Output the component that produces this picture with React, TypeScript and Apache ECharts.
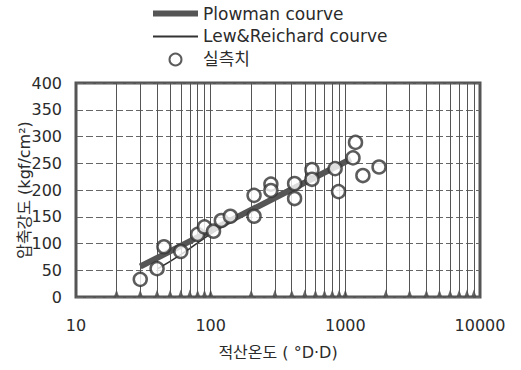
import React, { useEffect, useRef } from "react";
import * as echarts from "echarts";

const measuredX = [30, 40, 45, 60, 80, 90, 105, 120, 140, 210, 210, 280, 280, 420, 420, 565, 565, 840, 890, 1140, 1190, 1350, 1780];
const measuredY = [33, 53, 94, 85, 117, 131, 123, 143, 151, 190, 151, 211, 199, 212, 184, 238, 220, 240, 197, 260, 289, 227, 243];

const plowmanX = [30, 100, 1100];
const plowmanY = [57, 124, 258];

const lewX = [40, 60, 100, 200, 500, 1100];
const lewY = [52, 79, 118, 165, 218, 255];

const minorGrid = [20, 30, 40, 50, 60, 70, 80, 90, 200, 300, 400, 500, 600, 700, 800, 900, 2000, 3000, 4000, 5000, 6000, 7000, 8000, 9000];
const tickMarks = [20, 30, 40, 50, 60, 70, 80, 90, 100, 200, 300, 400, 500, 600, 700, 800, 900, 1000, 2000, 3000, 4000, 5000, 6000, 7000, 8000, 9000];

const FONT = "'DejaVu Sans', 'Noto Sans CJK KR', sans-serif";
const TXT = "#2b2b2b";

export default function App() {
  const ref = useRef<HTMLDivElement>(null);
  useEffect(() => {
    if (!ref.current) return;
    const chart = echarts.init(ref.current, undefined, { renderer: "svg" });
    chart.setOption({
      animation: false,
      textStyle: { fontFamily: FONT, color: TXT },
      legend: {
        orient: "vertical",
        left: 150,
        top: 5,
        padding: 0,
        itemWidth: 45,
        itemHeight: 12,
        itemGap: 6,
        textStyle: { fontFamily: FONT, fontSize: 17, color: TXT },
        data: [
          { name: "Plowman courve", itemStyle: { opacity: 0 }, lineStyle: { width: 6, color: "#555" } },
          { name: "Lew&Reichard courve", itemStyle: { opacity: 0 }, lineStyle: { width: 2, color: "#333" } },
          { name: "실측치" },
        ],
      },
      grid: {
        left: 76,
        right: 41,
        top: 83,
        bottom: 73,
        show: true,
        borderColor: "#555",
        borderWidth: 3,
        backgroundColor: "transparent",
      },
      xAxis: {
        type: "log",
        logBase: 10,
        min: 10,
        max: 10000,
        axisLine: { show: false },
        axisTick: { show: false },
        splitLine: { show: true, lineStyle: { color: "#555", width: 1 } },
        axisLabel: {
          margin: 20,
          fontSize: 16,
          color: TXT,
          fontFamily: FONT,
          formatter: (v: number) => String(Math.round(v)),
        },
        name: "적산온도 ( °D·D)",
        nameLocation: "middle",
        nameGap: 47,
        nameTextStyle: { fontSize: 16, color: TXT, fontFamily: FONT },
      },
      yAxis: {
        type: "value",
        min: 0,
        max: 400,
        interval: 50,
        axisLine: { show: false },
        axisTick: { show: false },
        splitLine: { show: true, lineStyle: { color: "#666", width: 1, type: [7, 3] } },
        axisLabel: { margin: 14, fontSize: 16, color: TXT, fontFamily: FONT },
        name: "압축강도 (kgf/cm²)",
        nameLocation: "middle",
        nameGap: 44,
        nameMoveOverlap: false,
        nameRotate: 90,
        nameTextStyle: { fontSize: 16, color: TXT, fontFamily: FONT },
      },
      series: [
        {
          name: "gridlines",
          type: "line",
          data: [],
          silent: true,
          markLine: {
            silent: true,
            symbol: ["none", "none"],
            label: { show: false },
            lineStyle: { color: "#555", width: 1, type: "solid" },
            data: minorGrid.map((v) => ({ xAxis: v })),
          },
        },
        {
          name: "ticks",
          type: "scatter",
          silent: true,
          symbol: "triangle",
          symbolSize: [5, 7],
          symbolOffset: [0, -4],
          itemStyle: { color: "#444" },
          data: tickMarks.map((v) => [v, 0]),
        },
        {
          name: "Lew&Reichard courve",
          type: "line",
          showSymbol: false,
          symbol: "none",
          smooth: true,
          lineStyle: { color: "#333", width: 1.5 },
          itemStyle: { color: "#333" },
          data: lewX.map((x, i) => [x, lewY[i]]),
        },
        {
          name: "Plowman courve",
          type: "line",
          showSymbol: false,
          symbol: "none",
          lineStyle: { color: "#555", width: 6 },
          itemStyle: { color: "#555" },
          data: plowmanX.map((x, i) => [x, plowmanY[i]]),
        },
        {
          name: "실측치",
          type: "scatter",
          symbol: "circle",
          symbolSize: 13,
          itemStyle: { color: "#fff", borderColor: "#333", borderWidth: 2.5 },
          data: measuredX.map((x, i) => [x, measuredY[i]]),
          z: 5,
        },
      ],
    });
    return () => chart.dispose();
  }, []);
  return <div ref={ref} style={{ width: 521, height: 370, position: "absolute", left: 0, top: 0 }} />;
}
